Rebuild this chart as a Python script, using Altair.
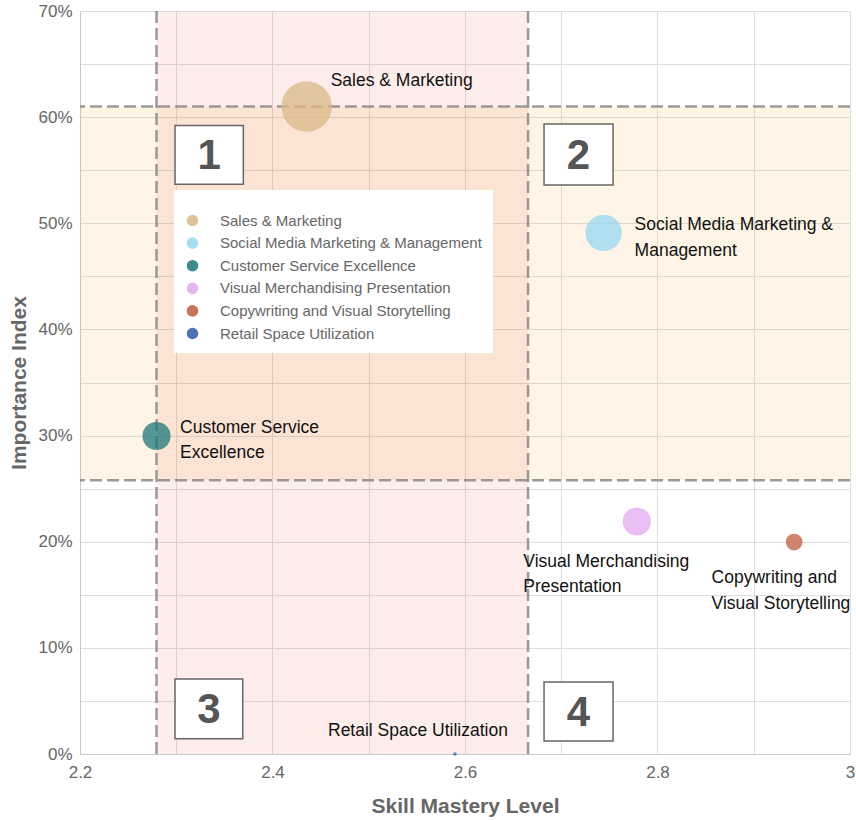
import altair as alt
import pandas as pd

# ---- data ----
skills = [
    "Sales & Marketing",
    "Social Media Marketing & Management",
    "Customer Service Excellence",
    "Visual Merchandising Presentation",
    "Copywriting and Visual Storytelling",
    "Retail Space Utilization",
]
point_labels = [
    "Sales & Marketing",
    "Social Media Marketing &\nManagement",
    "Customer Service\nExcellence",
    "Visual Merchandising\nPresentation",
    "Copywriting and\nVisual Storytelling",
    "Retail Space Utilization",
]
mastery = [2.4355, 2.744, 2.2795, 2.7785, 2.942, 2.5896]
importance = [0.610, 0.491, 0.2996, 0.219, 0.1997, 0.0]
weight = [100, 52, 31, 31, 11, 0.5]
colors = ["#d9b886", "#95d7f3", "#1a7878", "#e0a8f0", "#bf5b3b", "#2a5caa"]

x_thresholds = [2.2795, 2.6655]
y_thresholds = [0.258, 0.610]

x_ticks = [2.2, 2.3, 2.4, 2.5, 2.6, 2.7, 2.8, 2.9, 3.0]
y_ticks = [0.0, 0.05, 0.1, 0.15, 0.2, 0.25, 0.3, 0.35, 0.4, 0.45, 0.5, 0.55, 0.6, 0.65, 0.7]
quadrant_names = ["1", "2", "3", "4"]

df = pd.DataFrame({"skill": skills, "label": point_labels, "x": mastery,
                   "y": importance, "w": weight})

# ---- styling ----
FONT = "Liberation Sans"
xs = alt.Scale(domain=[2.2, 3.0], nice=False, zero=False)
ys = alt.Scale(domain=[0, 0.7], nice=False, zero=True)

x_axis = alt.Axis(values=x_ticks, title="Skill Mastery Level",
                  labelExpr="round(datum.value*10) % 2 == 0 ? format(datum.value, '~g') : ''",
                  ticks=False, labelPadding=10, titlePadding=15,
                  labelFontSize=17, labelColor="#666", labelFont=FONT,
                  titleFontSize=21, titleColor="#666", titleFont=FONT, titleFontWeight="bold",
                  gridColor="#dedede", domainColor="#c8c8c8", labelFlush=False)
y_axis = alt.Axis(values=y_ticks, title="Importance Index",
                  labelExpr="round(datum.value*100) % 10 == 0 ? format(datum.value, '.0%') : ''",
                  ticks=False, labelPadding=8, titlePadding=8,
                  labelFontSize=17, labelColor="#666", labelFont=FONT,
                  titleFontSize=21, titleColor="#666", titleFont=FONT, titleFontWeight="bold",
                  gridColor="#dedede", domainColor="#c8c8c8", labelFlush=False)


def X(field):
    return alt.X(field, type="quantitative", scale=xs, axis=x_axis)


def Y(field):
    return alt.Y(field, type="quantitative", scale=ys, axis=y_axis)


# bands
xband = alt.Chart(pd.DataFrame({"x": [x_thresholds[0]], "x2": [x_thresholds[1]]})).mark_rect(
    color="#e74c3c", opacity=0.1).encode(x=X("x"), x2="x2")
yband = alt.Chart(pd.DataFrame({"y": [y_thresholds[0]], "y2": [y_thresholds[1]]})).mark_rect(
    color="#f39c12", opacity=0.1).encode(y=Y("y"), y2="y2")

# dashed threshold lines
vrules = alt.Chart(pd.DataFrame({"x": x_thresholds})).mark_rule(
    color="#8a8a8a", strokeWidth=2.5, strokeDash=[12, 5], opacity=0.85).encode(x=X("x"))
hrules = alt.Chart(pd.DataFrame({"y": y_thresholds})).mark_rule(
    color="#8a8a8a", strokeWidth=2.5, strokeDash=[12, 5], opacity=0.85).encode(y=Y("y"))

# bubbles
bubbles = alt.Chart(df).mark_circle(opacity=0.75).encode(
    x=X("x"), y=Y("y"),
    size=alt.Size("w:Q", scale=alt.Scale(domain=[0, 100], range=[0, 2550]), legend=None),
    color=alt.Color("skill:N", scale=alt.Scale(domain=skills, range=colors), sort=skills,
                    legend=alt.Legend(orient="none", legendX=94, legendY=179, title=" ",
                                      titleFontSize=12, titlePadding=0,
                                      padding=11, fillColor="white",
                                      labelFontSize=15, labelColor="#666", labelFont=FONT,
                                      labelLimit=400, symbolType="circle", symbolSize=135,
                                      symbolOpacity=0.85, symbolStrokeWidth=0,
                                      labelOffset=20, rowPadding=6.6)),
)

# point labels (pixel offsets from each point to the first text line)
offsets = {
    "Sales & Marketing": (24, -26),
    "Social Media Marketing & Management": (31, -7.5),
    "Customer Service Excellence": (23.5, -8),
    "Visual Merchandising Presentation": (-113.5, 40),
    "Copywriting and Visual Storytelling": (-82.6, 36),
    "Retail Space Utilization": (-127, -23),
}
label_layers = []
for s in skills:
    dx, dy = offsets[s]
    label_layers.append(
        alt.Chart(df[df.skill == s]).mark_text(
            align="left", baseline="middle", dx=dx, dy=dy, lineBreak="\n", lineHeight=25.5,
            fontSize=17.5, font=FONT, color="#111").encode(x=X("x"), y=Y("y"), text="label")
    )

# quadrant boxes
quad_df = pd.DataFrame({
    "q": quadrant_names,
    "ax": [x_thresholds[0], x_thresholds[1], x_thresholds[0], x_thresholds[1]],
    "ay": [y_thresholds[1], y_thresholds[1], 0.0, 0.0],
})
quad_px = {  # (x left, x right, y top, y bottom) pixel offsets from anchor
    "1": (18.5, 86.8, 19, 77.6),
    "2": (16, 85, 17.5, 78.5),
    "3": (18.5, 86.2, -75, -15.3),
    "4": (16, 85, -72, -13),
}
box_layers = []
for q in quadrant_names:
    a, b, c, d = quad_px[q]
    sub = quad_df[quad_df.q == q]
    box_layers.append(
        alt.Chart(sub).mark_rect(fill="white", stroke="#666", strokeWidth=1.5,
                                 xOffset=a, x2Offset=b, yOffset=c, y2Offset=d).encode(
            x=X("ax"), x2="ax", y=Y("ay"), y2="ay")
    )
    box_layers.append(
        alt.Chart(sub).mark_text(fontSize=42, fontWeight="bold", font=FONT, color="#555",
                                 align="center", baseline="middle",
                                 dx=(a + b) / 2, dy=(c + d) / 2 + 1).encode(
            x=X("ax"), y=Y("ay"), text="q")
    )

chart = alt.layer(xband, yband, vrules, hrules, bubbles, *label_layers, *box_layers).properties(
    width=770, height=743,
    autosize=alt.AutoSizeParams(type="none"),
    padding={"left": 80, "top": 11, "right": 6, "bottom": 66},
).configure_view(stroke=None).configure(background="white")

chart.save("out.html", embed_options={"renderer": "svg", "actions": False})
